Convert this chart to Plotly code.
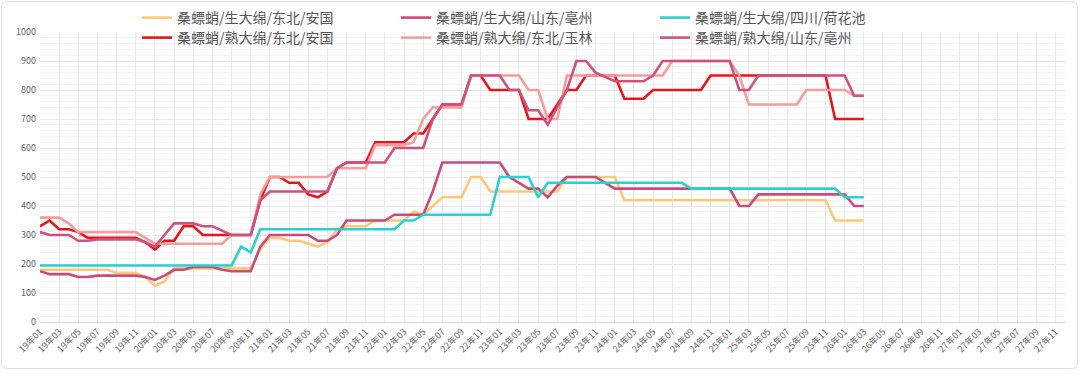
import plotly.graph_objects as go

# ---------------- data ----------------
years = ["19", "20", "21", "22", "23", "24", "25", "26", "27"]
months = ["01", "02", "03", "04", "05", "06", "07", "08", "09", "10", "11", "12"]
categories = [f"{y}年{m}" for y in years for m in months]  # 19年01 .. 27年12
tick_labels = categories[::2]

name_raw_ag = "桑螵蛸/生大绵/东北/安国"
name_raw_bz = "桑螵蛸/生大绵/山东/亳州"
name_raw_hhc = "桑螵蛸/生大绵/四川/荷花池"
name_ck_ag = "桑螵蛸/熟大绵/东北/安国"
name_ck_yl = "桑螵蛸/熟大绵/东北/玉林"
name_ck_bz = "桑螵蛸/熟大绵/山东/亳州"

raw_ag = [180, 180, 180, 180, 180, 180, 180, 180, 170, 170,
          170, 155, 125, 140, 185, 185, 185, 185, 185, 185,
          185, 185, 185, 250, 290, 290, 280, 280, 270, 260,
          275, 320, 330, 330, 330, 350, 350, 350, 350, 380,
          370, 400, 430, 430, 430, 500, 500, 450, 450, 450,
          450, 450, 450, 450, 450, 500, 500, 500, 500, 500,
          500, 420, 420, 420, 420, 420, 420, 420, 420, 420,
          420, 420, 420, 420, 420, 420, 420, 420, 420, 420,
          420, 420, 420, 350, 350, 350, 350]

raw_bz = [175, 165, 165, 165, 155, 155, 160, 160, 160, 160,
          160, 155, 145, 160, 180, 180, 190, 190, 190, 180,
          175, 175, 175, 260, 300, 300, 300, 300, 300, 280,
          280, 300, 350, 350, 350, 350, 350, 370, 370, 370,
          370, 450, 550, 550, 550, 550, 550, 550, 550, 500,
          480, 460, 460, 430, 470, 500, 500, 500, 500, 480,
          460, 460, 460, 460, 460, 460, 460, 460, 460, 460,
          460, 460, 460, 400, 400, 440, 440, 440, 440, 440,
          440, 440, 440, 440, 440, 400, 400]

raw_hhc = [195, 195, 195, 195, 195, 195, 195, 195, 195, 195,
           195, 195, 195, 195, 195, 195, 195, 195, 195, 195,
           195, 260, 240, 320, 320, 320, 320, 320, 320, 320,
           320, 320, 320, 320, 320, 320, 320, 320, 350, 350,
           370, 370, 370, 370, 370, 370, 370, 370, 500, 500,
           500, 500, 430, 480, 480, 480, 480, 480, 480, 480,
           480, 480, 480, 480, 480, 480, 480, 480, 460, 460,
           460, 460, 460, 460, 460, 460, 460, 460, 460, 460,
           460, 460, 460, 460, 430, 430, 430]

ck_ag = [330, 350, 320, 320, 310, 290, 290, 290, 290, 290,
         290, 275, 250, 280, 280, 330, 330, 300, 300, 300,
         300, 300, 300, 420, 500, 500, 480, 480, 440, 430,
         450, 530, 550, 550, 550, 620, 620, 620, 620, 650,
         650, 700, 750, 750, 750, 850, 850, 800, 800, 800,
         800, 700, 700, 700, 750, 800, 800, 850, 850, 850,
         850, 770, 770, 770, 800, 800, 800, 800, 800, 800,
         850, 850, 850, 850, 850, 850, 850, 850, 850, 850,
         850, 850, 850, 700, 700, 700, 700]

ck_yl = [360, 360, 360, 340, 310, 310, 310, 310, 310, 310,
         310, 290, 270, 270, 270, 270, 270, 270, 270, 270,
         300, 300, 300, 440, 500, 500, 500, 500, 500, 500,
         500, 530, 530, 530, 530, 610, 610, 610, 610, 620,
         700, 740, 740, 740, 740, 850, 850, 850, 850, 850,
         850, 800, 800, 700, 700, 850, 850, 850, 850, 850,
         850, 850, 850, 850, 850, 850, 900, 900, 900, 900,
         900, 900, 900, 850, 750, 750, 750, 750, 750, 750,
         800, 800, 800, 800, 800, 780, 780]

ck_bz = [310, 300, 300, 300, 280, 280, 285, 285, 285, 285,
         285, 275, 260, 300, 340, 340, 340, 330, 330, 315,
         300, 300, 300, 420, 450, 450, 450, 450, 450, 450,
         450, 530, 550, 550, 550, 550, 550, 600, 600, 600,
         600, 700, 750, 750, 750, 850, 850, 850, 850, 800,
         800, 730, 730, 680, 740, 800, 900, 900, 860, 845,
         830, 830, 830, 830, 850, 900, 900, 900, 900, 900,
         900, 900, 900, 800, 800, 850, 850, 850, 850, 850,
         850, 850, 850, 850, 850, 780, 780]

# ---------------- layout helpers ----------------
W, H = 1080, 374
L, R, T, B = 40, 15, 32, 52
PW, PH = W - L - R, H - T - B


def pxx(px):
    return (px - L) / PW


def pxy(py):
    return (H - B - py) / PH


FONT = "Noto Sans CJK SC, Microsoft YaHei, sans-serif"

series = [
    (name_raw_ag, raw_ag, "#fac878", "legend"),
    (name_raw_bz, raw_bz, "#c94b7b", "legend"),
    (name_raw_hhc, raw_hhc, "#2dcfd0", "legend"),
    (name_ck_ag, ck_ag, "#e6141b", "legend2"),
    (name_ck_yl, ck_yl, "#f59c9c", "legend2"),
    (name_ck_bz, ck_bz, "#d0507f", "legend2"),
]

fig = go.Figure()
for name, vals, color, lg in series:
    fig.add_trace(go.Scatter(
        x=categories[:len(vals)], y=vals, name=name, mode="lines",
        line=dict(color=color, width=2.6), legend=lg,
    ))

legend_common = dict(
    orientation="h", xanchor="left", yanchor="middle",
    font=dict(family=FONT, size=14, color="#555555"),
    bgcolor="rgba(0,0,0,0)", entrywidth=214, entrywidthmode="pixels",
    itemwidth=30, tracegroupgap=0,
)

fig.update_layout(
    width=W, height=H,
    margin=dict(l=L, r=R, t=T, b=B, pad=0, autoexpand=False),
    paper_bgcolor="white", plot_bgcolor="white",
    showlegend=True,
    legend=dict(x=pxx(137), y=pxy(18), **legend_common),
    legend2=dict(x=pxx(137), y=pxy(38), **legend_common),
    xaxis=dict(
        type="category", categoryorder="array", categoryarray=categories,
        range=[0, len(categories) - 1],
        tickmode="array", tickvals=tick_labels, ticktext=tick_labels,
        tickangle=-45, tickfont=dict(family=FONT, size=9, color="#666666"),
        showgrid=True, gridcolor="#e8e8e8", gridwidth=1,
        showline=True, linecolor="#d6d6d6", linewidth=1,
        ticks="", zeroline=False, fixedrange=True, automargin=False,
    ),
    yaxis=dict(
        range=[0, 1000], dtick=100, tick0=0,
        tickfont=dict(family=FONT, size=9, color="#666666"),
        showgrid=True, gridcolor="#e6e6e6", gridwidth=1,
        minor=dict(dtick=20, showgrid=True, gridcolor="#f4f4f4", gridwidth=1),
        showline=False, zeroline=False, ticks="", ticklabelstandoff=3,
        automargin=False,
    ),
)

# rounded outer frame
x0, x1, y0, y1, r = 1.5, 1077.5, 1.5, 368.5, 6
pts = (
    f"M {pxx(x0 + r)},{pxy(y0)} L {pxx(x1 - r)},{pxy(y0)} "
    f"Q {pxx(x1)},{pxy(y0)} {pxx(x1)},{pxy(y0 + r)} "
    f"L {pxx(x1)},{pxy(y1 - r)} Q {pxx(x1)},{pxy(y1)} {pxx(x1 - r)},{pxy(y1)} "
    f"L {pxx(x0 + r)},{pxy(y1)} Q {pxx(x0)},{pxy(y1)} {pxx(x0)},{pxy(y1 - r)} "
    f"L {pxx(x0)},{pxy(y0 + r)} Q {pxx(x0)},{pxy(y0)} {pxx(x0 + r)},{pxy(y0)} Z"
)
fig.add_shape(type="path", path=pts, xref="paper", yref="paper",
              line=dict(color="#dedede", width=1), layer="below")

fig.write_html("out.html")
